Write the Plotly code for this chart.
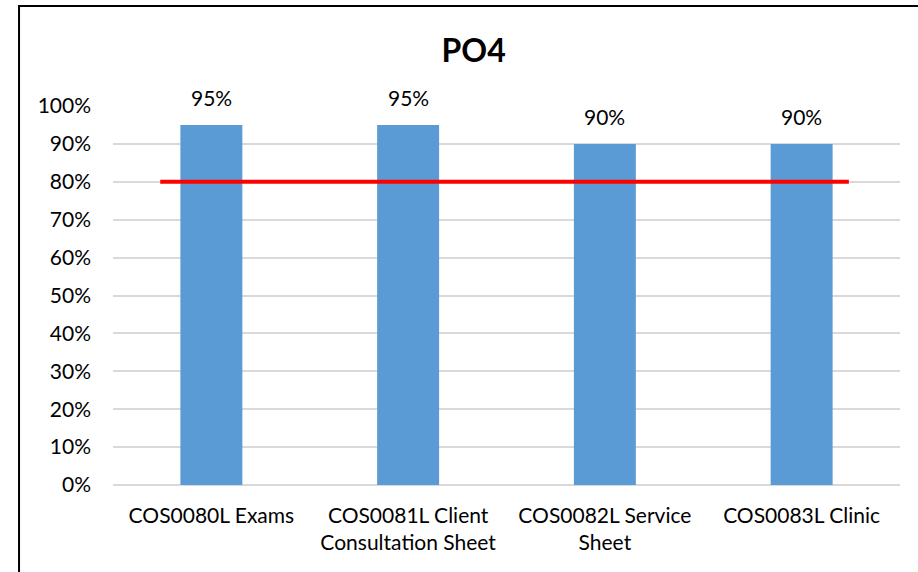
import plotly.graph_objects as go

# chart values
categories = ["COS0080L Exams", "COS0081L Client<br>Consultation Sheet",
              "COS0082L Service<br>Sheet", "COS0083L Clinic"]
scores = [0.95, 0.95, 0.90, 0.90]
target_x = [-0.26, 3.24]   # span of the benchmark line, in category units
target_y = [0.80, 0.80]
y_ticks = [i / 10 for i in range(11)]

FONT = "Lato"
BAR_COLOR = "#5B9BD5"

fig = go.Figure()

fig.add_trace(go.Bar(
    x=categories,
    y=scores,
    marker=dict(color=BAR_COLOR, line=dict(width=0)),
    showlegend=False,
    hoverinfo="skip",
))

# benchmark line on a hidden numeric axis laid over the category axis
fig.add_trace(go.Scatter(
    x=target_x,
    y=target_y,
    xaxis="x2",
    mode="lines",
    line=dict(color="#FF0000", width=4),
    showlegend=False,
    hoverinfo="skip",
))

# value labels above bars
for c, v in zip(categories, scores):
    fig.add_annotation(x=c, y=v, text=f"{v:.0%}", showarrow=False,
                       yanchor="bottom", yshift=13,
                       font=dict(family=FONT, size=21, color="#000"))

fig.update_layout(
    width=918, height=572,
    margin=dict(l=113, r=18, t=106, b=87),
    paper_bgcolor="#fff", plot_bgcolor="#fff",
    bargap=0.685,
    title=dict(text="<b>PO4</b>", x=0.516, xanchor="center",
               y=0.911, yanchor="middle",
               font=dict(family=FONT, size=32, color="#000")),
    xaxis=dict(
        type="category",
        range=[-0.5, 3.5],
        showgrid=False,
        showline=False,
        zeroline=False,
        ticks="",
        ticklabelstandoff=16,
        tickfont=dict(family=FONT, size=21, color="#000"),
    ),
    xaxis2=dict(
        overlaying="x",
        range=[-0.5, 3.5],
        visible=False,
    ),
    yaxis=dict(
        range=[0, 1.0],
        tickvals=y_ticks,
        tickformat=".0%",
        showgrid=True,
        gridcolor="#D9D9D9",
        gridwidth=1.5,
        zeroline=True,
        zerolinecolor="#D9D9D9",
        zerolinewidth=1.5,
        showline=False,
        ticks="",
        ticklabelstandoff=21,
        tickfont=dict(family=FONT, size=21, color="#000"),
    ),
    font=dict(family=FONT, color="#000"),
)

# chart frame (runs off the right and bottom of the window in the original)
fig.add_shape(type="rect", xref="paper", yref="paper",
              x0=-0.1194, x1=1.06, y0=-0.3, y1=1.2639,
              line=dict(color="#000", width=2), layer="above")

# drop the default page margin so the figure sits at the window corner
fig.write_html("out.html", config={"displayModeBar": False},
               post_script="document.body.style.margin='0';")
